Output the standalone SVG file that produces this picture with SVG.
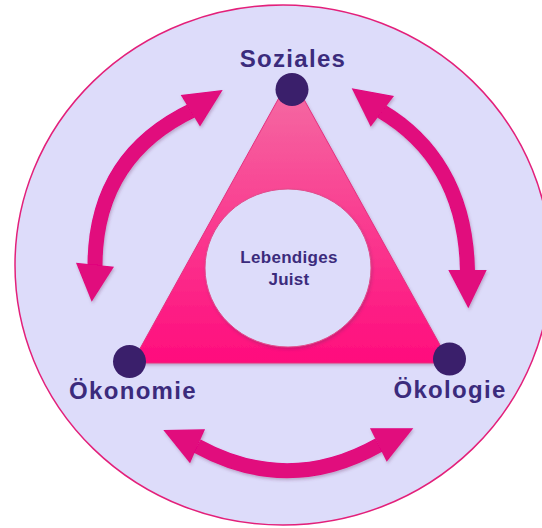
<svg xmlns="http://www.w3.org/2000/svg" width="542" height="528" viewBox="0 0 542 528">
  <defs>
    <linearGradient id="triGrad" x1="0" y1="76" x2="0" y2="363" gradientUnits="userSpaceOnUse">
      <stop offset="0" stop-color="#f46ea4"/>
      <stop offset="1" stop-color="#ff0c7d"/>
    </linearGradient>
    <filter id="shadow" x="-20%" y="-20%" width="140%" height="140%">
      <feDropShadow dx="1" dy="2" stdDeviation="1.5" flood-color="#6a3060" flood-opacity="0.3"/>
    </filter>
    <style>
      .shaft { fill: none; stroke: #e1077d; stroke-width: 15; }
      .head { fill: #e1077d; }
      .dot { fill: #3a1f6b; }
      .label { font-family: "Liberation Sans", Arial, sans-serif; font-weight: bold; fill: #3b2b7c; text-anchor: middle; }
      .big { font-size: 24px; letter-spacing: 1.3px; }
      .small { font-size: 17px; letter-spacing: 0.3px; }
    </style>
  </defs>

  <rect width="542" height="528" fill="#ffffff"/>

  <g id="background">
    <ellipse cx="283" cy="265" rx="268" ry="260" fill="#dddcfa" stroke="#e3207a" stroke-width="1.5"/>
  </g>

  <g id="triangle">
    <polygon points="291,76 132,363 450,363" fill="url(#triGrad)" stroke="#e6307f" stroke-width="1" filter="url(#shadow)"/>
  </g>

  <g id="center">
    <ellipse cx="288" cy="268" rx="83" ry="79" fill="#dddcfa" stroke="#e04a8a" stroke-width="1" filter="url(#shadow)"/>
    <text class="label small" x="289" y="263">Lebendiges</text>
    <text class="label small" x="289" y="285">Juist</text>
  </g>

  <g id="connectors" filter="url(#shadow)">
    <path class="shaft" d="M 95 266 C 95 190, 130 140, 193 110"/>
    <polygon class="head" points="222.7,90 180.7,95 200,126.5"/>
    <polygon class="head" points="91.7,301.7 76,262.7 114,266.7"/>

    <path class="shaft" d="M 381 111 C 430 140, 466 190, 467.5 271"/>
    <polygon class="head" points="351.7,88.3 394,96 370.7,126.7"/>
    <polygon class="head" points="468.3,308.3 448.3,270 486.7,270"/>

    <path class="shaft" d="M 197 446 Q 288 496, 379 445"/>
    <polygon class="head" points="163.3,430 205,429.3 190,463.3"/>
    <polygon class="head" points="413.3,428.3 370,428.3 386.7,461.7"/>
  </g>

  <g id="soziales">
    <circle class="dot" cx="292" cy="89.5" r="16.5"/>
    <text class="label big" x="293" y="67">Soziales</text>
  </g>

  <g id="oekonomie">
    <circle class="dot" cx="129.5" cy="361.5" r="16.5"/>
    <text class="label big" x="133" y="399">Ökonomie</text>
  </g>

  <g id="oekologie">
    <circle class="dot" cx="449.5" cy="359" r="16.5"/>
    <text class="label big" x="450" y="398">Ökologie</text>
  </g>
</svg>
